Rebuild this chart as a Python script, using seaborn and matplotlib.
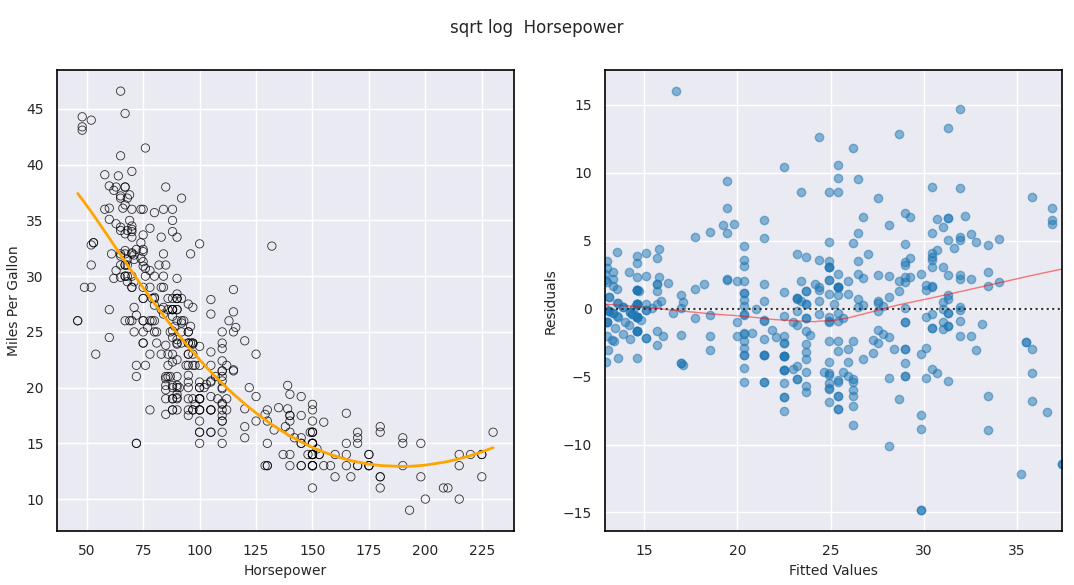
import numpy as np
import pandas as pd
import matplotlib
matplotlib.use("Agg")
import matplotlib.pyplot as plt
import seaborn as sns

# Auto data (mpg, horsepower), grouped by model year
mpg_70 = [18, 15, 18, 16, 17, 15, 14, 14, 14, 15, 15, 14, 15, 14, 24, 22, 18, 21, 27, 26, 25, 24, 25, 26, 21, 10, 10, 11, 9]
hp_70 = [130, 165, 150, 150, 140, 198, 220, 215, 225, 190, 170, 160, 150, 225, 95, 95, 97, 85, 88, 46, 87, 90, 95, 113, 90, 215, 200, 210, 193]

mpg_71 = [27, 28, 25, 19, 16, 17, 19, 18, 14, 14, 14, 14, 12, 13, 13, 18, 22, 19, 18, 23, 28, 30, 30, 31, 35, 27, 26]
hp_71 = [88, 90, 95, 100, 105, 100, 88, 100, 165, 175, 153, 150, 180, 170, 175, 110, 72, 100, 88, 86, 90, 70, 76, 65, 69, 60, 70]

mpg_72 = [24, 25, 23, 20, 21, 13, 14, 15, 14, 17, 11, 13, 12, 13, 19, 15, 13, 13, 14, 18, 22, 21, 26, 22, 28, 23, 28, 27]
hp_72 = [95, 80, 54, 90, 86, 165, 175, 150, 153, 150, 208, 155, 160, 190, 97, 150, 130, 140, 150, 112, 76, 87, 69, 86, 92, 97, 80, 88]

mpg_73 = [13, 14, 13, 14, 15, 12, 13, 13, 14, 13, 12, 13, 18, 16, 18, 18, 23, 26, 11, 12, 13, 12, 18, 20, 21, 22, 18, 19, 21, 26,
          15, 16, 29, 24, 20, 19, 15, 24, 20, 11]
hp_73 = [175, 150, 145, 137, 150, 198, 150, 158, 150, 215, 225, 175, 105, 100, 100, 88, 95, 46, 150, 167, 170, 180, 100, 88, 72, 94, 90, 85, 107, 90,
         145, 230, 49, 75, 91, 112, 150, 110, 122, 180]

mpg_74 = [20, 19, 15, 31, 26, 32, 25, 16, 16, 18, 16, 13, 14, 14, 14, 29, 26, 26, 31, 32, 28, 24, 26, 24, 26, 31]
hp_74 = [95, 100, 100, 67, 80, 65, 75, 100, 110, 105, 140, 150, 150, 140, 150, 83, 67, 78, 52, 61, 75, 75, 75, 97, 93, 67]

mpg_75 = [19, 18, 15, 15, 16, 15, 16, 14, 17, 16, 15, 18, 21, 20, 13, 29, 23, 20, 23, 24, 25, 24, 18, 29, 19, 23, 23, 22, 25, 33]
hp_75 = [95, 105, 72, 72, 170, 145, 150, 148, 110, 105, 110, 95, 110, 110, 129, 75, 83, 100, 78, 96, 71, 97, 97, 70, 90, 95, 88, 98, 115, 53]

mpg_76 = [28, 25, 25, 26, 27, 17.5, 16, 15.5, 14.5, 22, 22, 24, 22.5, 29, 24.5, 29, 33, 20, 18, 18.5, 17.5, 29.5, 32, 28, 26.5, 20,
          13, 19, 19, 16.5, 16.5, 13, 13, 13]
hp_76 = [86, 81, 92, 79, 83, 140, 150, 120, 152, 100, 105, 81, 90, 52, 60, 70, 53, 100, 78, 110, 95, 71, 70, 75, 72, 102,
         150, 88, 108, 120, 180, 145, 130, 150]

mpg_77 = [31.5, 30, 36, 25.5, 33.5, 17.5, 17, 15.5, 15, 17.5, 20.5, 19, 18.5, 16, 15.5, 15.5, 16, 29, 24.5, 26, 25.5, 30.5, 33.5,
          30, 30.5, 22, 21.5, 21.5]
hp_77 = [68, 80, 58, 96, 70, 145, 110, 145, 130, 110, 105, 100, 98, 180, 170, 190, 149, 78, 88, 75, 89, 63, 83,
         67, 78, 97, 110, 110]

mpg_78 = [43.1, 36.1, 32.8, 39.4, 36.1, 19.9, 19.4, 20.2, 19.2, 20.5, 20.2, 25.1, 20.5, 19.4, 20.6, 20.8, 18.6, 18.1, 19.2, 17.7,
          18.1, 17.5, 30, 27.5, 27.2, 30.9, 21.1, 23.2, 23.8, 23.9, 20.3, 17, 21.6, 16.2, 31.5, 29.5]
hp_78 = [48, 66, 52, 70, 60, 110, 140, 139, 105, 95, 85, 88, 100, 90, 105, 85, 110, 120, 145, 165,
         139, 140, 68, 95, 97, 75, 95, 105, 85, 97, 103, 125, 115, 133, 71, 68]

mpg_79 = [21.5, 19.8, 22.3, 20.2, 20.6, 17, 17.6, 16.5, 18.2, 16.9, 15.5, 19.2, 18.5, 31.9, 34.1, 35.7, 27.4, 25.4, 23, 27.2,
          23.9, 34.2, 34.5, 31.8, 37.3, 28.4, 28.8, 26.8, 33.5]
hp_79 = [115, 85, 88, 90, 110, 130, 129, 138, 135, 155, 142, 125, 150, 71, 65, 80, 80, 77, 125, 71,
         90, 70, 70, 65, 69, 90, 115, 115, 90]

mpg_80 = [41.5, 38.1, 32.1, 37.2, 28, 26.4, 24.3, 19.1, 34.3, 29.8, 31.3, 37, 32.2, 46.6, 27.9, 40.8, 44.3, 43.4, 36.4, 30,
          44.6, 33.8, 29.8, 32.7, 23.7, 35, 32.4]
hp_80 = [76, 60, 70, 65, 90, 88, 90, 90, 78, 90, 75, 92, 75, 65, 105, 65, 48, 48, 67, 67,
         67, 67, 62, 132, 100, 88, 72]

mpg_81 = [27.2, 26.6, 25.8, 23.5, 30, 39.1, 39, 35.1, 32.3, 37, 37.7, 34.1, 34.7, 34.4, 29.9, 33, 33.7, 32.4, 32.9, 31.6,
          28.1, 30.7, 25.4, 24.2, 22.4, 26.6, 20.2, 17.6]
hp_81 = [84, 84, 92, 110, 84, 58, 64, 60, 67, 65, 62, 68, 63, 65, 65, 74, 75, 75, 100, 74,
         80, 76, 116, 120, 110, 105, 88, 85]

mpg_82 = [28, 27, 34, 31, 29, 27, 24, 36, 37, 31, 38, 36, 36, 36, 34, 38, 32, 38, 25, 38, 26, 22, 32, 36, 27, 27, 44, 32, 28, 31]
hp_82 = [88, 88, 88, 85, 84, 90, 92, 74, 68, 68, 63, 70, 88, 75, 70, 67, 67, 67, 110, 85, 92, 112, 96, 84, 90, 86, 52, 84, 79, 82]

mpg = np.array(mpg_70 + mpg_71 + mpg_72 + mpg_73 + mpg_74 + mpg_75 + mpg_76 + mpg_77 + mpg_78 + mpg_79 + mpg_80 + mpg_81 + mpg_82, dtype=float)
horsepower = np.array(hp_70 + hp_71 + hp_72 + hp_73 + hp_74 + hp_75 + hp_76 + hp_77 + hp_78 + hp_79 + hp_80 + hp_81 + hp_82, dtype=float)
df = pd.DataFrame({"horsepower": horsepower, "mpg": mpg})

# model: mpg ~ hp + sqrt(hp) + log(hp)
X = np.column_stack([np.ones(len(df)), df["horsepower"], np.sqrt(df["horsepower"]), np.log(df["horsepower"])])
beta, *_ = np.linalg.lstsq(X, df["mpg"].values, rcond=None)
df["fitted"] = X @ beta
df["resid"] = df["mpg"] - df["fitted"]


def lowess(x, y, frac=2 / 3, it=3):
    # plain lowess (statsmodels is not available here)
    o = np.argsort(x)
    x, y = x[o], y[o]
    n = len(x)
    k = int(frac * n + 1e-10)
    rw = np.ones(n)
    yhat = np.zeros(n)
    for _ in range(it + 1):
        for i in range(n):
            d = np.abs(x - x[i])
            h = np.sort(d)[k - 1]
            w = (1 - np.clip(d / h, 0, 1) ** 3) ** 3 * rw
            sw = w.sum()
            xm = (w * x).sum() / sw
            ym = (w * y).sum() / sw
            den = (w * (x - xm) ** 2).sum()
            b = (w * (x - xm) * (y - ym)).sum() / den if den > 0 else 0.0
            yhat[i] = ym + b * (x[i] - xm)
        res = y - yhat
        s = np.median(np.abs(res))
        u = np.clip(res / (6 * s), -1, 1)
        rw = (1 - u ** 2) ** 2
    return x, yhat


sns.set_theme(style="darkgrid", rc={"axes.edgecolor": "black", "axes.linewidth": 1.2})
fig, axes = plt.subplots(1, 2, figsize=(10.74, 5.85), dpi=100)
fig.subplots_adjust(left=0.053, right=0.989, top=0.88, bottom=0.092, wspace=0.2)

# left: scatter with the model curve
sns.scatterplot(data=df, x="horsepower", y="mpg", ax=axes[0], s=36, alpha=0.8,
                facecolors="none", edgecolor="black", linewidth=0.6)
sns.lineplot(data=df, x="horsepower", y="fitted", ax=axes[0], color="orange", lw=2, errorbar=None)
axes[0].set_xlabel("Horsepower", fontsize=10)
axes[0].set_ylabel("Miles Per Gallon", fontsize=10)

# right: residuals vs fitted values
sns.residplot(data=df, x="fitted", y="resid", ax=axes[1], color="tab:blue",
              scatter_kws={"alpha": 0.5})
lx, ly = lowess(df["fitted"].values, df["resid"].values)
line, = axes[1].plot(lx, ly, color="red", lw=1, alpha=0.5)
line.sticky_edges.x[:] = [lx[0], lx[-1]]
axes[1].set_xlabel("Fitted Values", fontsize=10)
axes[1].set_ylabel("Residuals", fontsize=10)

for ax in axes:
    ax.tick_params(labelsize=10)

fig.suptitle("sqrt log  Horsepower", fontsize=12, y=0.968)

fig.savefig("out.png", dpi=100)
